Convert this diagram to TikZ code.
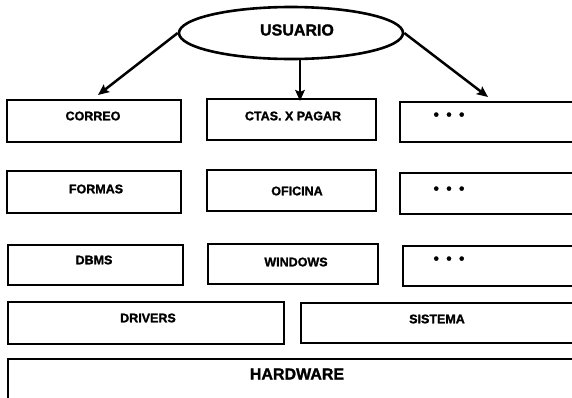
\documentclass[tikz,border=0pt]{standalone}
\usepackage{fontspec}
\setmainfont{Liberation Sans}[BoldFeatures={FakeBold=1.5}]
\usetikzlibrary{shapes.geometric,arrows.meta}

\tikzset{
  layer/.style={draw, line width=2.1pt, inner sep=0pt, anchor=north west},
  lbl/.style={font=\bfseries\fontsize{12.5}{14}\selectfont, inner sep=0pt},
  biglbl/.style={font=\bfseries\fontsize{16}{18}\selectfont, inner sep=0pt},
  arr/.style={line width=2.5pt, -{Stealth[length=11pt,width=9.5pt,inset=2pt]}},
}
\newcommand{\moredots}{{\fontsize{15}{16}\selectfont\textbullet\hspace{7.5pt}\textbullet\hspace{7.5pt}\textbullet}}

\begin{document}
\begin{tikzpicture}[x=1pt,y=-1pt]
  \useasboundingbox (0,0) rectangle (572,397);
  \clip (0,0) rectangle (572,397);

  % user on top
  \node[draw, ellipse, line width=2.6pt, inner sep=0pt,
        minimum width=224pt, minimum height=52pt] (u) at (291,33) {};
  \node[biglbl] (u-t) at (297,30) {USUARIO};

  % applications
  \node[layer, minimum width=174pt, minimum height=42pt] (correo) at (6,99) {};
  \node[layer, minimum width=169pt, minimum height=41pt] (ctas) at (206,98) {};
  \node[layer, minimum width=201pt, minimum height=40pt] (r1c3) at (399,101) {};
  \node[lbl] (correo-t) at (93,116) {CORREO};
  \node[lbl] (ctas-t) at (293,116) {CTAS. X PAGAR};
  \node[lbl] (r1c3-t) at (449,116) {\moredots};

  % utilities
  \node[layer, minimum width=174pt, minimum height=42pt] (formas) at (6,170) {};
  \node[layer, minimum width=169pt, minimum height=41pt] (oficina) at (206,169) {};
  \node[layer, minimum width=201pt, minimum height=41pt] (r2c3) at (399,172) {};
  \node[lbl] (formas-t) at (96,189) {FORMAS};
  \node[lbl] (oficina-t) at (297,191) {OFICINA};
  \node[lbl] (r2c3-t) at (449,190) {\moredots};

  % environments
  \node[layer, minimum width=175pt, minimum height=40pt] (dbms) at (7,244) {};
  \node[layer, minimum width=170pt, minimum height=40pt] (windows) at (207,243) {};
  \node[layer, minimum width=198pt, minimum height=40pt] (r3c3) at (402,245) {};
  \node[lbl] (dbms-t) at (94,260) {DBMS};
  \node[lbl] (windows-t) at (296,262) {WINDOWS};
  \node[lbl] (r3c3-t) at (449,260) {\moredots};

  % base layers
  \node[layer, minimum width=276pt, minimum height=42pt] (drivers) at (7,301) {};
  \node[layer, minimum width=300pt, minimum height=40pt] (sistema) at (300,302) {};
  \node[lbl] (drivers-t) at (148,318) {DRIVERS};
  \node[lbl] (sistema-t) at (437,319) {SISTEMA};

  \node[layer, minimum width=600pt, minimum height=70pt] (hw) at (7,358) {};
  \node[biglbl] (hw-t) at (297,374) {HARDWARE};

  % arrows from the user
  \coordinate (mid) at (300,0);
  \coordinate (rtip) at (488,97);
  \coordinate (ltip) at (98,95);
  \draw[arr] (u.west) -- (ltip);
  \draw[arr] (u.south -| mid) -- ([yshift=-3pt]ctas.north -| mid);
  \draw[arr] (u.east) -- (rtip);
\end{tikzpicture}
\end{document}
